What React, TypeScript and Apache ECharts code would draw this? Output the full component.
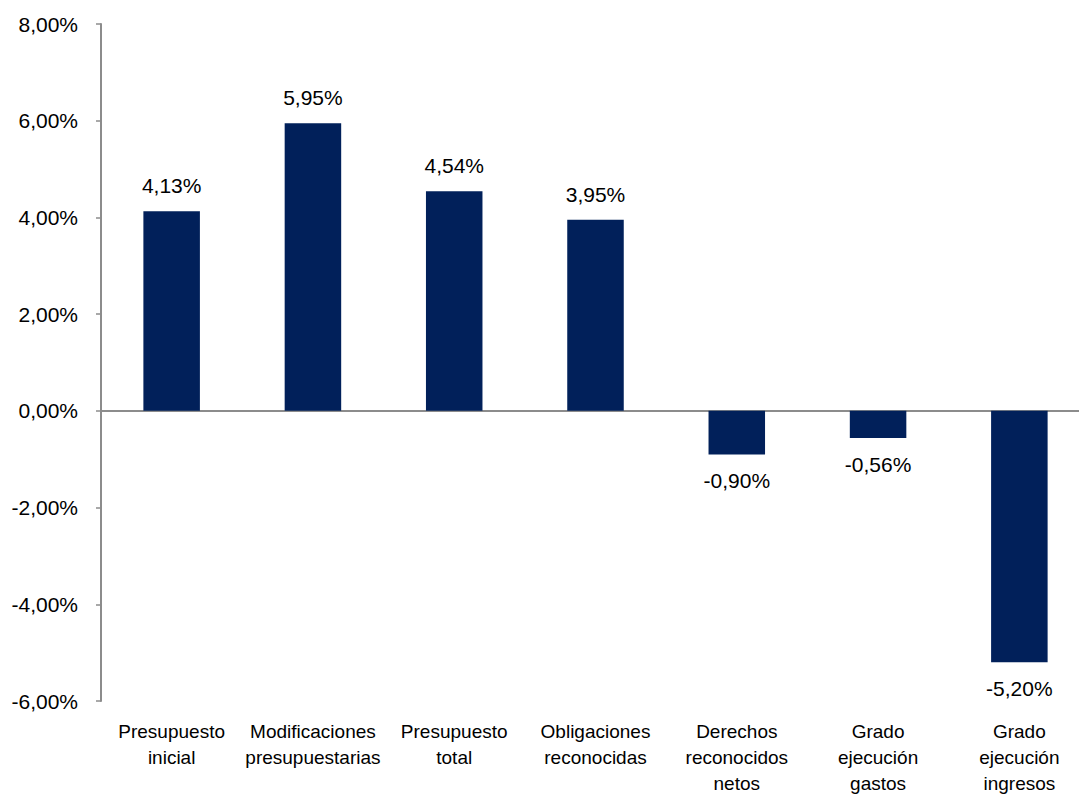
import React, { useEffect, useRef } from "react";
import * as echarts from "echarts";

const categories = [
  "Presupuesto\ninicial",
  "Modificaciones\npresupuestarias",
  "Presupuesto\ntotal",
  "Obligaciones\nreconocidas",
  "Derechos\nreconocidos\nnetos",
  "Grado\nejecución\ngastos",
  "Grado\nejecución\ningresos",
];
const values = [4.13, 5.95, 4.54, 3.95, -0.9, -0.56, -5.2];
const yMin = -6;
const yMax = 8;
const yStep = 2;

const FONT = "'Liberation Sans', Arial, sans-serif";
const fmt = (v: number) => v.toFixed(2).replace(".", ",") + "%";

export default function App() {
  const ref = useRef<HTMLDivElement>(null);
  useEffect(() => {
    if (!ref.current) return;
    const chart = echarts.init(ref.current, null, { renderer: "svg" });
    chart.setOption({
      animation: false,
      backgroundColor: "#ffffff",
      textStyle: { fontFamily: FONT },
      grid: { left: 101, top: 24, bottom: 96, right: 10, containLabel: false, outerBoundsMode: "none" },
      xAxis: [
        {
          type: "category",
          data: categories,
          axisLine: { onZero: true, lineStyle: { color: "#8c8c8c", width: 2 } },
          axisTick: { show: true, length: 6, interval: (i: number) => i === 5, lineStyle: { color: "#8c8c8c", width: 1.5 } },
          axisLabel: { show: false },
        },
        {
          type: "category",
          data: categories,
          position: "bottom",
          axisLine: { show: false, onZero: false },
          axisTick: { show: false },
          axisLabel: {
            show: true,
            interval: 0,
            margin: 17,
            color: "#000",
            fontFamily: FONT,
            fontSize: 19,
            lineHeight: 26,
          },
        },
      ],
      yAxis: {
        type: "value",
        min: yMin,
        max: yMax,
        interval: yStep,
        axisLine: { show: true, lineStyle: { color: "#8c8c8c", width: 2 } },
        axisTick: { show: true, length: 5, lineStyle: { color: "#8c8c8c", width: 1.5 } },
        splitLine: { show: false },
        axisLabel: {
          margin: 23,
          color: "#000",
          fontFamily: FONT,
          fontSize: 21,
          formatter: (v: number) => fmt(v),
        },
      },
      series: [
        {
          type: "bar",
          xAxisIndex: 0,
          barWidth: "40%",
          itemStyle: { color: "#01205a" },
          data: values.map((v) => ({
            value: v,
            label: { position: v < 0 ? "bottom" : "top", distance: v < 0 ? 16 : 15 },
          })),
          label: {
            show: true,
            color: "#000",
            fontFamily: FONT,
            fontSize: 21,
            formatter: (p: any) => fmt(p.value),
          },
        },
      ],
    });
    return () => chart.dispose();
  }, []);
  return (
    <div style={{ position: "absolute", left: 0, top: 0, width: 1079, height: 797, overflow: "hidden" }}>
      <div ref={ref} style={{ width: 1100, height: 797 }} />
    </div>
  );
}
